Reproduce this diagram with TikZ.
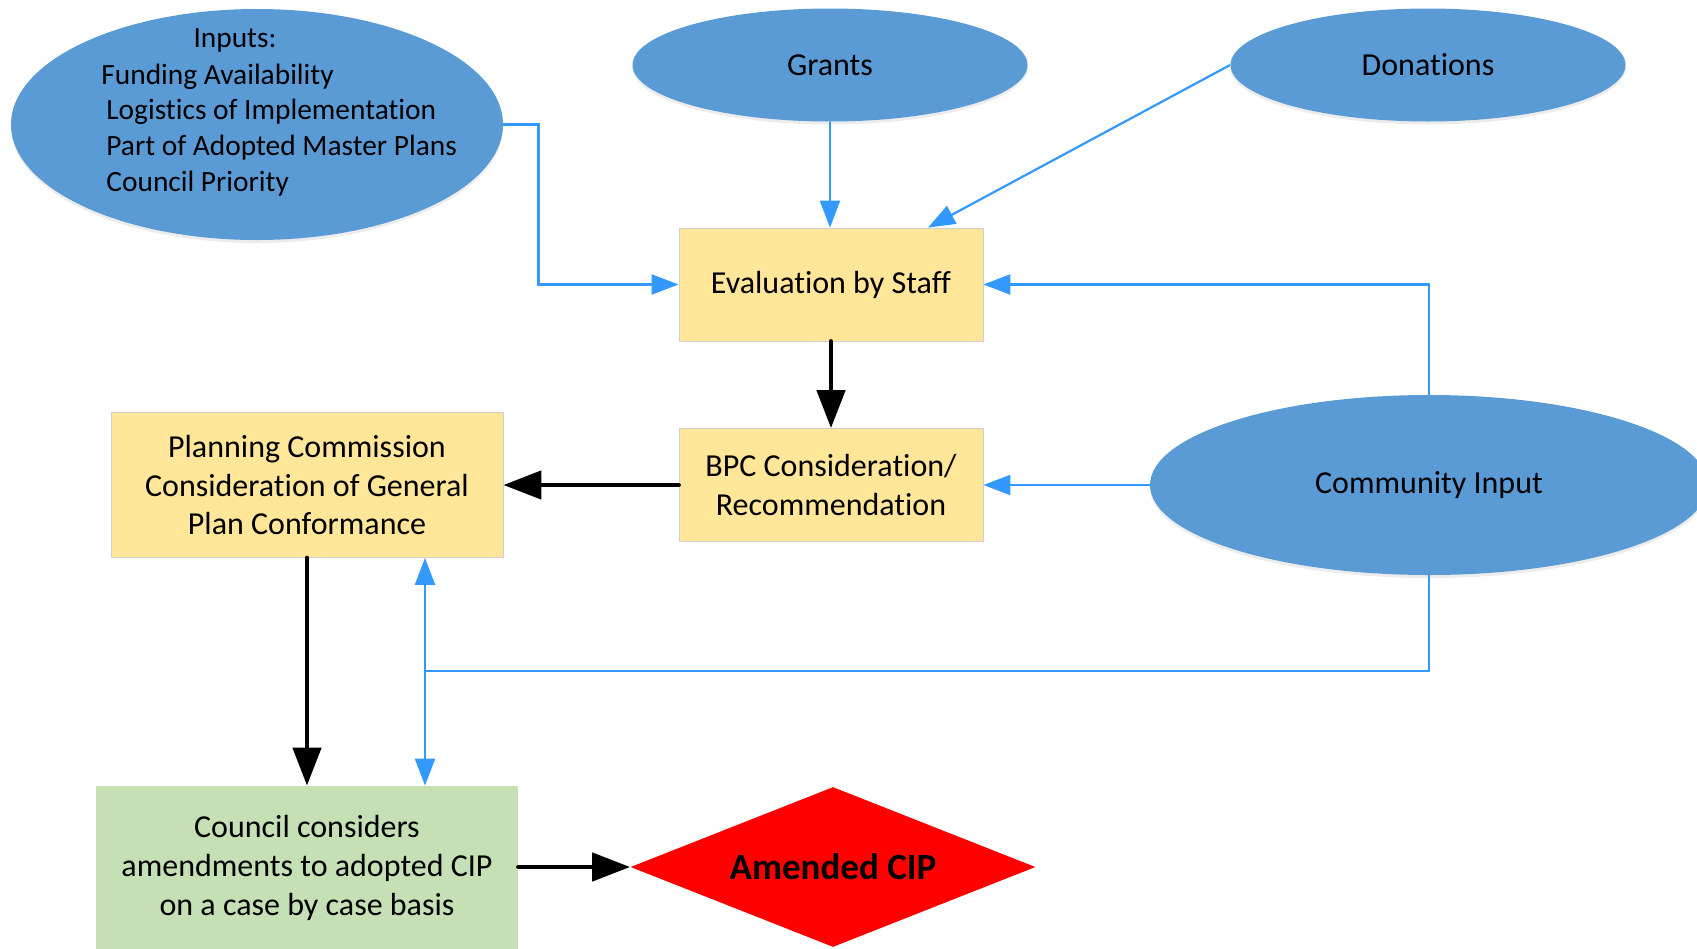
\documentclass[tikz,border=0pt]{standalone}
\usepackage{fontspec}
\setmainfont{Carlito}[Ligatures=NoCommon]
\usetikzlibrary{shapes.geometric,arrows.meta,shadows}
\definecolor{ellblue}{HTML}{5B9BD5}
\definecolor{boxyel}{HTML}{FFE699}
\definecolor{boxgrn}{HTML}{C5E0B4}
\definecolor{lnblue}{HTML}{3399FF}
\definecolor{boxedge}{HTML}{D0CECE}
\begin{document}
\begin{tikzpicture}[x=0.5pt,y=-0.5pt,
  oval/.style={ellipse, fill=ellblue, inner sep=0pt, font=\fontsize{16}{19}\selectfont,
    drop shadow={opacity=0.15,shadow xshift=0pt,shadow yshift=-1.5pt}},
  txt/.style={inner sep=0pt, font=\fontsize{14.7}{17}\selectfont},
  procbox/.style={rectangle, draw=boxedge, line width=0.4pt, align=center, inner sep=0pt,
    font=\fontsize{16}{19.2}\selectfont},
  blueln/.style={draw=lnblue, line width=1.1pt, -{Triangle[length=13.5pt,width=10pt]}},
  blackln/.style={line width=2.3pt, line cap=round, -{Triangle[length=19pt,width=14pt]}}
]
\useasboundingbox (0,0) rectangle (1697,948);
\clip (0,0) rectangle (1697,948);

% ellipses
\node[oval, minimum width=246pt, minimum height=115.5pt] (inputs) at (257,124.5) {};
\node[txt, anchor=mid] (t0) at (235,43) {Inputs:};
\node[txt, anchor=mid west] (t1) at (101,79.5) {Funding Availability};
\node[txt, anchor=mid west] (t2) at (106,114.5) {Logistics of Implementation};
\node[txt, anchor=mid west] (t3) at (106,150.5) {Part of Adopted Master Plans};
\node[txt, anchor=mid west] (t4) at (106,186.5) {Council Priority};

\node[oval, minimum width=197.5pt, minimum height=56.5pt] (grants) at (830,65) {Grants};
\node[oval, minimum width=197.5pt, minimum height=56.5pt] (donations) at (1428,65) {Donations};
\node[oval, minimum width=279pt, minimum height=90pt] (community) at (1429,485) {Community Input};

% boxes
\node[procbox, fill=boxyel, minimum width=152pt, minimum height=56.5pt] (eval) at (831,284.5) {Evaluation by Staff};
\node[procbox, fill=boxyel, minimum width=152pt, minimum height=56.5pt] (bpc) at (831,485) {BPC Consideration/\\Recommendation};
\node[procbox, fill=boxyel, minimum width=196pt, minimum height=72.5pt] (planning) at (307,485) {Planning Commission\\Consideration of General\\Plan Conformance};
\node[procbox, fill=boxgrn, draw=none, minimum width=211pt, minimum height=87pt] (council) at (307,873) {};
\node[txt, font=\fontsize{16}{19.5}\selectfont, align=center] (counciltext) at (307,868) {Council considers\\amendments to adopted CIP\\on a case by case basis};

% diamond
\node[diamond, fill=red, inner sep=0pt, minimum width=202.5pt, minimum height=80pt] (amended) at (833,867) {};
\node[txt, font=\fontsize{18.5}{21}\bfseries] (amendedtext) at (833,867) {Amended CIP};

% blue connectors
\draw[blueln] (inputs.east) -- ++(35,0) |- (eval.west);
\draw[blueln] (grants.south) -- (grants.south |- eval.north);
\draw[blueln] (donations.west) -- ([xshift=48.5pt]eval.north);
\draw[blueln] (community.north) |- (eval.east);
\draw[blueln] (community.west) -- (bpc.east);
\coordinate (junc) at (425,671);
\draw[draw=lnblue, line width=1.1pt] (community.south) |- (junc);
\draw[blueln] (junc) -- (junc |- planning.south);
\draw[blueln] (junc) -- (junc |- council.north);

% black connectors
\draw[blackln] (eval.south) -- (bpc.north);
\draw[blackln] (bpc.west) -- (planning.east);
\draw[blackln] (planning.south) -- (council.north -| planning.south);
\draw[blackln] (amended.west -| council.east) -- (amended.west);
\end{tikzpicture}
\end{document}
